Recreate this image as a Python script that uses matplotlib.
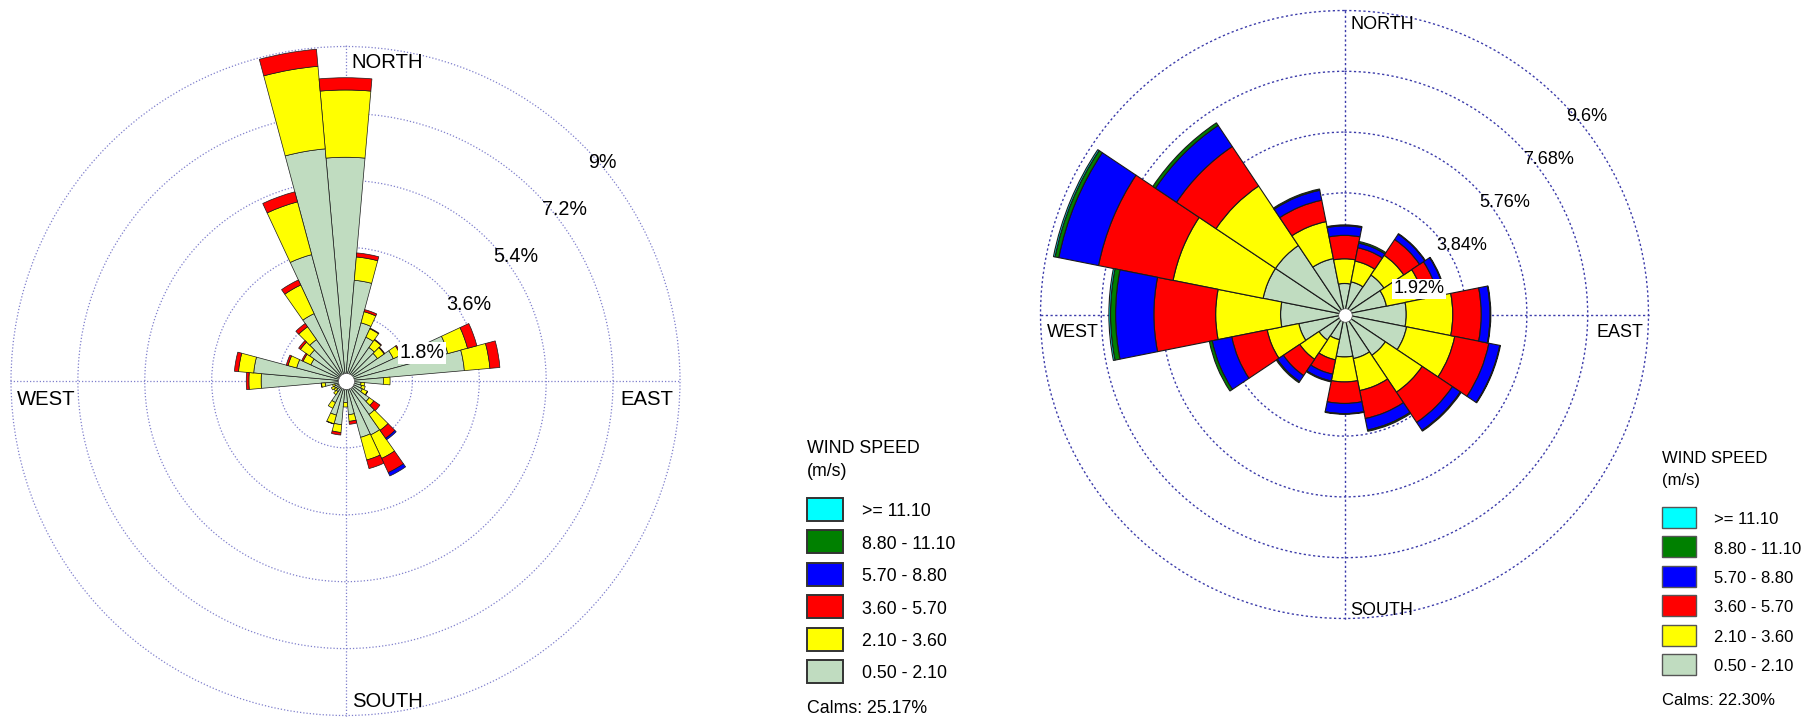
import numpy as np
import matplotlib
matplotlib.use("Agg")
import matplotlib.pyplot as plt
from matplotlib.patches import Rectangle

plt.rcParams['font.family'] = ['Liberation Sans', 'DejaVu Sans']

W, H = 1820, 719

# ---------------------------------------------------------------- data
speed_labels = [">= 11.10", "8.80 - 11.10", "5.70 - 8.80",
                "3.60 - 5.70", "2.10 - 3.60", "0.50 - 2.10"]
speed_colors = ["#00FFFF", "#008000", "#0000FF",
                "#FF0000", "#FFFF00", "#C0DCC0"]

# left rose: 36 sectors of 10 degrees, frequency (%) per speed class
left_dirs = list(range(0, 360, 10))
left_s1 = [6.02, 2.72, 1.62, 1.30, 1.10, 1.05, 1.42, 2.85, 3.21, 1.02, 0.42, 0.45,
           0.50, 0.78, 1.10, 1.60, 1.57, 0.91, 0.58, 1.18, 0.95, 0.64, 0.35, 0.30,
           0.33, 0.30, 0.55, 2.27, 2.48, 1.36, 1.03, 1.18, 1.36, 2.00, 3.52, 6.27]
left_s2 = [1.81, 0.63, 0.31, 0.25, 0.25, 0.22, 0.22, 0.55, 0.69, 0.18, 0.10, 0.10,
           0.15, 0.15, 0.52, 0.70, 0.63, 0.18, 0.12, 0.21, 0.24, 0.17, 0.10, 0.08,
           0.09, 0.06, 0.10, 0.33, 0.41, 0.24, 0.23, 0.30, 0.42, 0.85, 1.47, 2.23]
left_s3 = [0.33, 0.11, 0.06, 0.02, 0.02, 0.02, 0.03, 0.26, 0.27, 0.00, 0.00, 0.00,
           0.01, 0.20, 0.26, 0.42, 0.24, 0.08, 0.00, 0.07, 0.01, 0.00, 0.00, 0.00,
           0.00, 0.00, 0.01, 0.07, 0.11, 0.05, 0.04, 0.06, 0.11, 0.15, 0.28, 0.46]
left_s4 = [0.00, 0.00, 0.00, 0.00, 0.00, 0.00, 0.00, 0.00, 0.00, 0.00, 0.00, 0.00,
           0.00, 0.00, 0.05, 0.10, 0.00, 0.00, 0.00, 0.00, 0.00, 0.00, 0.00, 0.00,
           0.00, 0.00, 0.00, 0.00, 0.00, 0.00, 0.00, 0.00, 0.00, 0.00, 0.00, 0.00]
left_rings = [1.8, 3.6, 5.4, 7.2, 9.0]
left_ring_labels = ["1.8%", "3.6%", "5.4%", "7.2%", "9%"]
left_calms = "Calms: 25.17%"

# right rose: 16 sectors (N, NNE, ... NNW), frequency (%) per speed class
right_dirs = [i * 22.5 for i in range(16)]
right_s1 = [0.98, 1.05, 1.50, 1.35, 1.95, 2.00, 1.55, 1.42,
            1.34, 0.81, 0.97, 1.47, 2.02, 2.62, 2.62, 1.80]
right_s2 = [0.78, 0.67, 0.75, 1.20, 1.47, 1.55, 1.40, 1.03,
            0.79, 0.65, 0.73, 1.02, 2.05, 2.90, 2.26, 1.19]
right_s3 = [0.74, 0.43, 0.60, 0.45, 0.90, 1.10, 1.15, 0.90,
            0.68, 0.46, 0.62, 1.14, 1.95, 2.40, 1.50, 0.69]
right_s4 = [0.30, 0.15, 0.20, 0.23, 0.28, 0.35, 0.30, 0.37,
            0.32, 0.22, 0.23, 0.63, 1.21, 1.28, 0.80, 0.32]
right_s5 = [0.03, 0.05, 0.02, 0.02, 0.02, 0.02, 0.03, 0.04,
            0.02, 0.03, 0.04, 0.09, 0.16, 0.12, 0.10, 0.04]
right_s6 = [0.00, 0.00, 0.00, 0.00, 0.00, 0.00, 0.00, 0.00,
            0.00, 0.00, 0.00, 0.00, 0.05, 0.05, 0.00, 0.00]
right_rings = [1.92, 3.84, 5.76, 7.68, 9.6]
right_ring_labels = ["1.92%", "3.84%", "5.76%", "7.68%", "9.6%"]
right_calms = "Calms: 22.30%"

compass = ["NORTH", "EAST", "SOUTH", "WEST"]


# ---------------------------------------------------------------- helpers
def fx(x):
    return x / W


def fy(y):
    return 1 - y / H


def make_rose(fig, cx, cy, radius, rings, grid_color, grid_lw, dash):
    # a little headroom so the outermost dotted ring is not clipped
    over = 1.004
    r_ax = radius * over
    ax = fig.add_axes([fx(cx - r_ax), fy(cy + r_ax),
                       2 * r_ax / W, 2 * r_ax / H], projection="polar")
    ax.set_theta_zero_location("N")
    ax.set_theta_direction(-1)
    ax.set_ylim(0, rings[-1] * over)
    ax.set_yticks(rings)
    ax.set_yticklabels([])
    ax.set_xticks(np.deg2rad([0, 90, 180, 270]))
    ax.set_xticklabels([])
    ax.tick_params(length=0)
    ax.set_axisbelow(True)
    ax.grid(True, color=grid_color, linewidth=grid_lw, linestyle=(0, dash))
    ax.spines["polar"].set_visible(False)
    return ax


def draw_petals(ax, dirs, classes, colors, width_deg, edge_lw, hole_size):
    theta = np.deg2rad(np.asarray(dirs, dtype=float))
    width = np.deg2rad(width_deg)
    bottom = np.zeros(len(dirs))
    for vals, col in zip(classes, colors):
        vals = np.asarray(vals, dtype=float)
        m = vals > 0
        ax.bar(theta[m], vals[m], width=width, bottom=bottom[m], color=col,
               edgecolor="#1a1a1a", linewidth=edge_lw, align="center", zorder=2)
        bottom = bottom + vals
    ax.scatter([0], [0], s=hole_size, color="white", edgecolor="#555555",
               linewidth=0.5, zorder=5)


def draw_legend(fig, x0, title_base, unit_base, top0, step, box_w, box_h,
                label_x, calm_base, calm_text, fs, edge_col, edge_lw):
    fig.text(fx(x0), fy(title_base), "WIND SPEED", fontsize=fs, va="baseline")
    fig.text(fx(x0), fy(unit_base), "(m/s)", fontsize=fs, va="baseline")
    for i, (lab, col) in enumerate(zip(speed_labels, speed_colors)):
        top = top0 + i * step
        fig.add_artist(Rectangle((fx(x0), fy(top + box_h)), box_w / W, box_h / H,
                                 transform=fig.transFigure, facecolor=col,
                                 edgecolor=edge_col, linewidth=edge_lw))
        fig.text(fx(label_x), fy(top + box_h / 2 + 6.8), lab, fontsize=fs,
                 va="baseline")
    fig.text(fx(x0), fy(calm_base), calm_text, fontsize=fs, va="baseline")


# ---------------------------------------------------------------- figure
fig = plt.figure(figsize=(W / 100, H / 100), dpi=100)
fig.patch.set_facecolor("white")

# left rose
axl = make_rose(fig, 345.5, 381.0, 334.5, left_rings, "#7f7fcc", 0.9, (1, 1.6))
draw_petals(axl, left_dirs, [left_s1, left_s2, left_s3, left_s4],
            speed_colors[::-1][:4], 10, 0.5, 135)

# right rose
axr = make_rose(fig, 1344.5, 314.5, 304.0, right_rings, "#3c3caa", 1.0, (1.6, 1.8))
draw_petals(axr, right_dirs,
            [right_s1, right_s2, right_s3, right_s4, right_s5, right_s6],
            speed_colors[::-1], 22.5, 0.8, 95)

# compass labels
left_compass_pos = [(351.7, 68.3), (620.7, 405.0), (351.7, 707.0), (16.7, 405.0)]
right_compass_pos = [(1350.0, 29.0), (1596.7, 336.7), (1350.0, 615.0), (1046.7, 336.7)]
for name, (x, y) in zip(compass, left_compass_pos):
    fig.text(fx(x), fy(y), name, fontsize=14.6, va="baseline", ha="left")
for name, (x, y) in zip(compass, right_compass_pos):
    fig.text(fx(x), fy(y), name, fontsize=13, va="baseline", ha="left")

# ring value labels
left_ring_pos = [(422.0, 358.3), (468.7, 310.0), (515.8, 262.3), (564.2, 215.0), (602.5, 168.3)]
right_ring_pos = [(1419.2, 293.3), (1461.7, 250.0), (1505.0, 207.3), (1548.8, 164.0), (1586.7, 120.7)]
for i, (lab, (x, y)) in enumerate(zip(left_ring_labels, left_ring_pos)):
    kw = {}
    if i == 0:
        kw["bbox"] = dict(facecolor="white", edgecolor="none", pad=1.2)
    fig.text(fx(x), fy(y), lab, fontsize=14.2, ha="center", va="baseline", **kw)
for i, (lab, (x, y)) in enumerate(zip(right_ring_labels, right_ring_pos)):
    kw = {}
    if i == 0:
        kw["bbox"] = dict(facecolor="white", edgecolor="none", pad=1.2)
    fig.text(fx(x), fy(y), lab, fontsize=13, ha="center", va="baseline", **kw)

# legends
draw_legend(fig, 806.7, 453.0, 476.0, 498.0, 32.4, 36.6, 23.0, 861.7,
            713.0, left_calms, 12.8, "#333333", 1.4)
draw_legend(fig, 1661.7, 463.0, 485.0, 507.0, 29.4, 34.0, 21.0, 1714.0,
            705.0, right_calms, 12.0, "#555555", 1.0)

fig.savefig("out.png", dpi=100, facecolor="white")
